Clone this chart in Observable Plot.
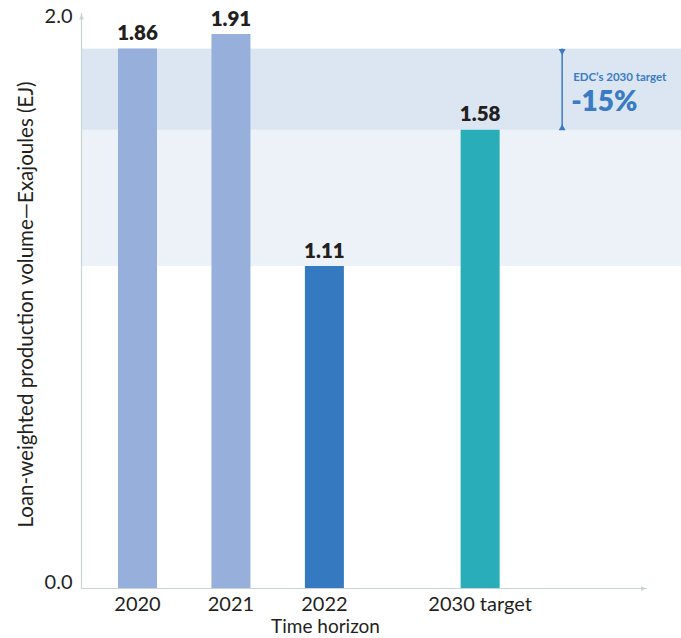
<!DOCTYPE html>
<html>
<head>
<meta charset="utf-8">
<script src="https://cdn.jsdelivr.net/npm/d3@7"></script>
<script src="https://cdn.jsdelivr.net/npm/@observablehq/plot@0.6"></script>
<style>
  html, body { margin: 0; padding: 0; background: #ffffff; }
  #chart { width: 681px; height: 638px; }
</style>
</head>
<body>
<div id="chart"></div>
<script>
// ---- Data ----
const categories = ["2020", "2021", "2022", "2030 target"];
const values = [1.86, 1.91, 1.11, 1.58];
const yTicks = [0, 2.0];
const xTitle = "Time horizon";
const yTitle = "Loan-weighted production volume\u2014Exajoules (EJ)";
const targetLabel = "EDC\u2019s 2030 target";

// ---- Derived ----
const data = categories.map((c, i) => ({category: c, value: values[i]}));
const baseline = values[0];
const latest = values[2];
const target = values[3];
const pctLabel = `${Math.round((target - baseline) / baseline * 100)}%`;
const bands = [
  {y1: latest, y2: target, fill: "#edf2f8"},
  {y1: target, y2: baseline, fill: "#dbe6f2"}
];

// layout: empty slots between categories (visual gap before target)
const gapAfter = [2, 2, 4];
const slots = [];
categories.forEach((c, i) => {
  slots.push(c);
  for (let k = 0; k < (gapAfter[i] || 0); k++) slots.push(`gap-${i}-${k}`);
});

const barColors = ["#97b0db", "#97b0db", "#3579c0", "#29adb8"];
const ink = "#231f20";
const axisColor = "#c9d4d7";
const blue = "#3a7bc4";
const font = "Lato, 'Open Sans', sans-serif";

const chart = Plot.plot({
  width: 681,
  height: 638,
  marginTop: 8,
  marginBottom: 50,
  marginLeft: 81,
  marginRight: 0,
  style: {fontFamily: font, color: ink, background: "#ffffff"},
  x: {type: "point", domain: slots, padding: 4.131, align: 0.2176, round: false},
  y: {domain: [0, 2]},
  color: {domain: categories, range: barColors},
  marks: [
    Plot.rectY(bands, {y1: "y1", y2: "y2", fill: "fill"}),
    Plot.ruleX(data, {x: "category", y1: 0, y2: "value", stroke: "category", strokeWidth: 39}),
    Plot.text(data, {
      x: "category", y: "value", text: d => d.value.toFixed(2),
      lineAnchor: "bottom", dy: -9, fontSize: 20.5, fontWeight: 800, fill: ink
    }),
    // target annotation
    Plot.ruleX([{x: "2030 target", y1: target, y2: baseline}], {
      x: "x", y1: "y1", y2: "y2", stroke: blue, strokeWidth: 1.5, dx: 82
    }),
    Plot.dot([{x: "2030 target", y: baseline}], {
      x: "x", y: "y", symbol: "triangle", r: 2.6, fill: blue, stroke: null, rotate: 180, dx: 82, dy: 2
    }),
    Plot.dot([{x: "2030 target", y: target}], {
      x: "x", y: "y", symbol: "triangle", r: 2.6, fill: blue, stroke: null, dx: 82, dy: -2
    }),
    Plot.text([targetLabel], {
      x: () => "2030 target", y: () => (baseline + target) / 2,
      textAnchor: "start", lineAnchor: "bottom", dx: 93, dy: -9,
      fontSize: 11.5, fontWeight: 700, fill: blue
    }),
    Plot.text([pctLabel], {
      x: () => "2030 target", y: () => (baseline + target) / 2,
      textAnchor: "start", lineAnchor: "bottom", dx: 91, dy: 21,
      fontSize: 28, fontWeight: 800, fill: blue
    }),
    // axes
    Plot.frame({anchor: "left", insetTop: 5, stroke: axisColor, strokeWidth: 1.2, ariaLabel: "y-axis-line"}),
    Plot.frame({anchor: "bottom", insetRight: 35, stroke: axisColor, strokeWidth: 1.2, ariaLabel: "x-axis-line"}),
    Plot.axisX({
      ticks: categories, tickSize: 0, tickPadding: 8, fontSize: 20, label: null, fill: ink
    }),
    Plot.axisY({
      ticks: [yTicks[0]], tickSize: 0, tickPadding: 9, lineAnchor: "bottom",
      tickFormat: d3.format(".1f"), fontSize: 20, label: null, fill: ink
    }),
    Plot.axisY({
      ticks: [yTicks[1]], tickSize: 0, tickPadding: 9, lineAnchor: "top",
      tickFormat: d3.format(".1f"), fontSize: 20, label: null, fill: ink
    }),
    Plot.text([yTitle], {
      frameAnchor: "left", rotate: -90, textAnchor: "middle", lineAnchor: "middle",
      dx: -55, dy: 6, fontSize: 20.5, fill: ink
    }),
    Plot.text([xTitle], {
      frameAnchor: "bottom", textAnchor: "middle", lineAnchor: "middle",
      dx: -56, dy: 38, fontSize: 19, fill: ink
    })
  ]
});

// arrowheads on the axis lines
const svg = d3.select(chart);
const defs = svg.insert("defs", ":first-child");
defs.append("marker")
  .attr("id", "axis-arrow")
  .attr("viewBox", "0 0 10 10")
  .attr("refX", 10).attr("refY", 5)
  .attr("markerUnits", "userSpaceOnUse")
  .attr("markerWidth", 6).attr("markerHeight", 6)
  .attr("orient", "auto-start-reverse")
  .append("path").attr("d", "M0,1L10,5L0,9z").attr("fill", axisColor);
svg.selectAll('[aria-label="y-axis-line"]').each(function () {
  const el = this.tagName.toLowerCase() === "line" ? d3.select(this) : d3.select(this).selectAll("line");
  el.attr("marker-start", "url(#axis-arrow)");
});
svg.selectAll('[aria-label="x-axis-line"]').each(function () {
  const el = this.tagName.toLowerCase() === "line" ? d3.select(this) : d3.select(this).selectAll("line");
  el.attr("marker-end", "url(#axis-arrow)");
});

document.getElementById("chart").appendChild(chart);
</script>
</body>
</html>
